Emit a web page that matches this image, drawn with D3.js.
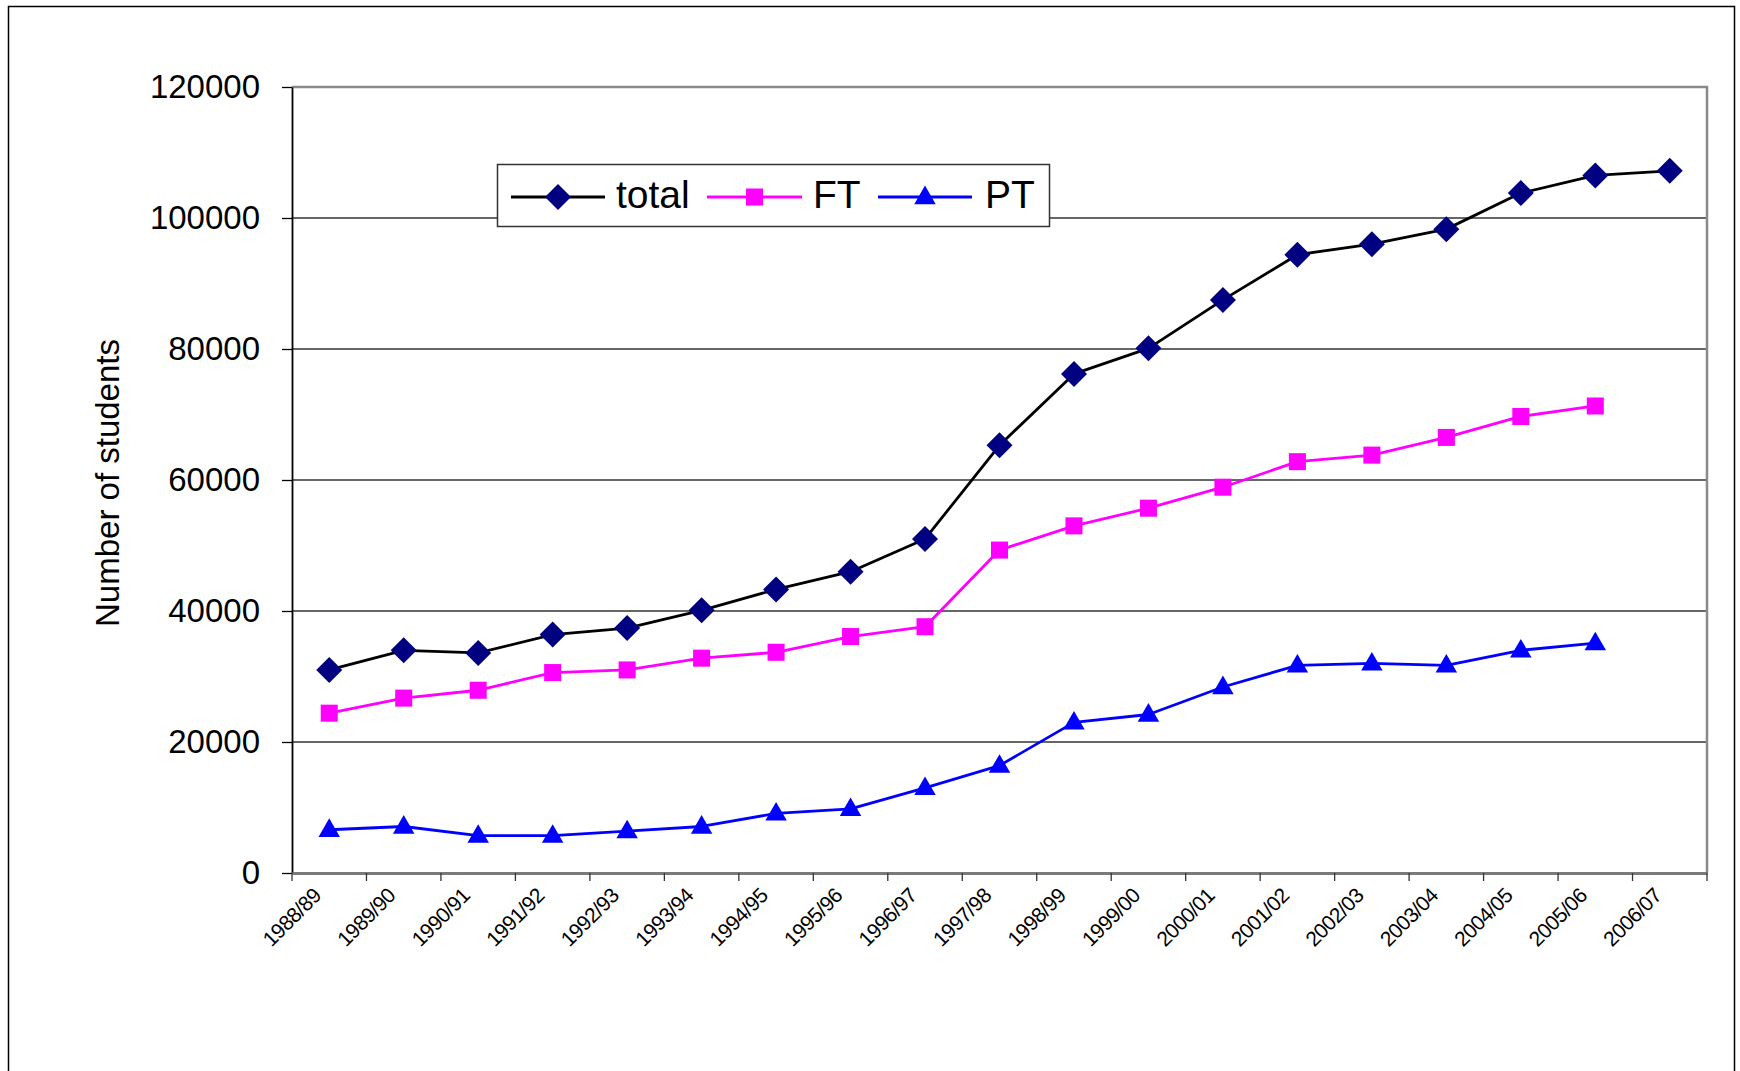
<!DOCTYPE html>
<html>
<head>
<meta charset="utf-8">
<script src="https://cdn.jsdelivr.net/npm/d3@7"></script>
<style>
  html, body { margin: 0; padding: 0; background: #fff; }
  svg { display: block; font-family: "Liberation Sans", Arial, sans-serif; }
</style>
</head>
<body>
<svg id="chart" width="1740" height="1071"></svg>
<script>
// Academic years on the category axis
const years = ["1988/89","1989/90","1990/91","1991/92","1992/93","1993/94","1994/95",
  "1995/96","1996/97","1997/98","1998/99","1999/00","2000/01","2001/02","2002/03",
  "2003/04","2004/05","2005/06","2006/07"];

// Student numbers per year (null = no figure for that year)
const totalStudents = [31000, 34000, 33600, 36400, 37400, 40100, 43300, 46000, 51000,
  65300, 76200, 80100, 87500, 94400, 96000, 98300, 103800, 106500, 107200];
const fullTime = [24400, 26700, 27900, 30600, 31000, 32800, 33700, 36100, 37600,
  49300, 53000, 55700, 58900, 62800, 63800, 66500, 69700, 71300, null];
const partTime = [6600, 7100, 5700, 5700, 6400, 7100, 9100, 9800, 13000,
  16400, 23000, 24200, 28400, 31700, 32000, 31700, 34000, 35100, null];

const yTicks = [0, 20000, 40000, 60000, 80000, 100000, 120000];

const svg = d3.select("#chart");

// outer chart frame
svg.append("rect")
  .attr("x", 8.5).attr("y", 6.5).attr("width", 1726).attr("height", 1100)
  .attr("fill", "none").attr("stroke", "#000").attr("stroke-width", 1.5);

const plot = { left: 292, right: 1707, top: 87, bottom: 873 };

const x = d3.scaleBand().domain(years).range([plot.left, plot.right]).padding(0);
const y = d3.scaleLinear().domain([0, 120000]).range([plot.bottom, plot.top]);

// horizontal gridlines
svg.append("g")
  .selectAll("line")
  .data(yTicks.filter(v => v > 0 && v < 120000))
  .join("line")
  .attr("x1", plot.left).attr("x2", plot.right)
  .attr("y1", d => y(d)).attr("y2", d => y(d))
  .attr("stroke", "#333").attr("stroke-width", 1.3);

// plot area frame: top and right in grey
svg.append("path")
  .attr("d", `M${plot.left},${y(120000)}H${plot.right}V${plot.bottom}`)
  .attr("fill", "none").attr("stroke", "#8a8a8a").attr("stroke-width", 2.5);

// y axis
const yAxis = svg.append("g")
  .attr("transform", `translate(${plot.left},0)`)
  .call(d3.axisLeft(y).tickValues(yTicks).tickSize(10).tickPadding(22)
    .tickSizeOuter(0).tickFormat(d3.format("d")));
yAxis.select(".domain").attr("stroke", "#000").attr("stroke-width", 1.8);
yAxis.selectAll(".tick line").attr("stroke", "#000").attr("stroke-width", 1.3);
yAxis.selectAll(".tick text")
  .attr("font-size", 33).attr("fill", "#000")
  .attr("font-family", "Liberation Sans, Arial, sans-serif");

// x axis: labels centred on categories, ticks on category boundaries
const xAxis = svg.append("g")
  .attr("transform", `translate(0,${plot.bottom})`)
  .call(d3.axisBottom(x).tickSize(0).tickSizeOuter(0).tickPadding(0));
xAxis.select(".domain").attr("stroke", "#7a7a7a").attr("stroke-width", 3);
xAxis.selectAll(".tick text")
  .attr("font-size", 21).attr("fill", "#000")
  .attr("font-family", "Liberation Sans, Arial, sans-serif")
  .attr("text-anchor", "end")
  .attr("dy", 0)
  .attr("letter-spacing", -0.6)
  .attr("transform", "translate(-7,24) rotate(-45)");

svg.append("g")
  .selectAll("line")
  .data(years.map(d => x(d)).concat([x.range()[1]]))
  .join("line")
  .attr("x1", d => d).attr("x2", d => d)
  .attr("y1", plot.bottom).attr("y2", plot.bottom + 8)
  .attr("stroke", "#333").attr("stroke-width", 1.3);

// y axis title
svg.append("text")
  .attr("transform", `translate(119,483) rotate(-90)`)
  .attr("text-anchor", "middle")
  .attr("font-size", 33)
  .attr("fill", "#000")
  .text("Number of students");

const cx = d => x(d) + x.bandwidth() / 2;

const seriesList = [
  { name: "total", values: totalStudents, line: "#000000", fill: "#000080", symbol: d3.symbolDiamond, size: 290 },
  { name: "FT", values: fullTime, line: "#FF00FF", fill: "#FF00FF", symbol: d3.symbolSquare, size: 290 },
  { name: "PT", values: partTime, line: "#0000FF", fill: "#0000FF", symbol: d3.symbolTriangle, size: 200 }
];

// diamond drawn as a square turned 45°, other markers from d3.symbol
function markerPath(s) {
  if (s.name === "total") {
    const r = 13;
    return `M0,${-r}L${r},0L0,${r}L${-r},0Z`;
  }
  return d3.symbol().type(s.symbol).size(s.size)();
}

seriesList.forEach(s => {
  const pts = years.map((yr, i) => ({ yr, v: s.values[i] }));
  const line = d3.line()
    .defined(d => d.v != null)
    .x(d => cx(d.yr))
    .y(d => y(d.v));
  svg.append("path")
    .datum(pts)
    .attr("d", line)
    .attr("fill", "none")
    .attr("stroke", s.line)
    .attr("stroke-width", 2.8)
    .attr("stroke-linejoin", "round");
  svg.append("g")
    .selectAll("path")
    .data(pts.filter(d => d.v != null))
    .join("path")
    .attr("d", markerPath(s))
    .attr("transform", d => `translate(${cx(d.yr)},${y(d.v) + (s.name === "PT" ? 1 : 0)})`)
    .attr("fill", s.fill);
});

// legend
const legend = svg.append("g");
legend.append("rect")
  .attr("x", 497.5).attr("y", 164.5).attr("width", 552).attr("height", 62)
  .attr("fill", "#fff").attr("stroke", "#333").attr("stroke-width", 1.5);

const legendItems = [
  { s: seriesList[0], x1: 511, x2: 605, tx: 616 },
  { s: seriesList[1], x1: 707, x2: 802, tx: 813 },
  { s: seriesList[2], x1: 878, x2: 972, tx: 985 }
];
legendItems.forEach(it => {
  const ly = 197;
  legend.append("line")
    .attr("x1", it.x1).attr("x2", it.x2).attr("y1", ly).attr("y2", ly)
    .attr("stroke", it.s.line).attr("stroke-width", 2.8);
  legend.append("path")
    .attr("d", markerPath(it.s))
    .attr("transform", `translate(${(it.x1 + it.x2) / 2},${ly + (it.s.name === "PT" ? 1 : 0)})`)
    .attr("fill", it.s.fill);
  legend.append("text")
    .attr("x", it.tx).attr("y", 208)
    .attr("font-size", 39).attr("fill", "#000")
    .text(it.s.name);
});
</script>
</body>
</html>
